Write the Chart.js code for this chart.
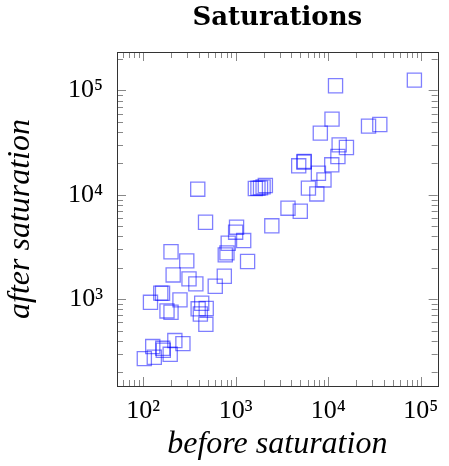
<!DOCTYPE html>
<html>
<head>
<meta charset="utf-8">
<script src="https://cdn.jsdelivr.net/npm/chart.js@4.4.1/dist/chart.umd.min.js"></script>
<style>
  html, body { margin: 0; padding: 0; background: #fff; }
  #wrap { width: 449px; height: 466px; }
</style>
</head>
<body>
<div id="wrap"><canvas id="chart"></canvas></div>
<script>
// (log-log)
const beforeSat = [
  85100, 11970, 10970, 8200, 27200, 36000, 13100, 15700, 12700, 10900,
  5450, 5500, 4790, 7820, 8980, 6100, 7520, 3670, 4980, 2455,
  1629, 1738, 1853, 1976, 2090, 389, 472, 1021, 998, 1219,
  830, 804, 771, 1343, 200, 296, 211, 313, 371, 753,
  601, 162, 155, 120, 250, 181, 200, 429, 393, 480,
  415, 476, 220, 269, 127, 163, 165, 196, 132, 103
];
const afterSat = [
  125600, 110900, 53100, 39000, 45500, 47200, 30100, 28400, 23300, 19400,
  20600, 20900, 18970, 16100, 13900, 11600, 10200, 7450, 6970, 5050,
  11510, 11590, 11670, 11930, 12280, 11330, 5470, 4900, 4390, 3650,
  3440, 2780, 2660, 2300, 2850, 2330, 1710, 1567, 1403, 1660,
  1333, 1141, 1145, 935, 986, 773, 750, 916, 810, 815,
  723, 575, 402, 376, 352, 339, 325, 297, 278, 270
];

const xTickValues = [100, 1000, 10000, 100000];
const xTickLabels = ['10\u00B2', '10\u00B3', '10\u2074', '10\u2075'];
const yTickValues = [1000, 10000, 100000];
const yTickLabels = ['10\u00B3', '10\u2074', '10\u2075'];

const points = beforeSat.map((b, i) => ({x: b, y: afterSat[i]}));

// box frame with inward major/minor ticks on all four sides
const frame = {
  id: 'frame',
  beforeDatasetsDraw(chart) {
    const {ctx, chartArea: a, scales: {x, y}} = chart;
    ctx.save();
    ctx.lineWidth = 1;
    ctx.strokeStyle = '#888';
    ctx.beginPath();
    for (let k = 1; k <= 5; k++) {
      for (let m = 1; m <= 9; m++) {
        const v = m * Math.pow(10, k);
        const len = m === 1 ? 9 : 6;
        if (v >= x.min && v <= x.max) {
          const px = Math.round(x.getPixelForValue(v)) + 0.5;
          ctx.moveTo(px, a.bottom); ctx.lineTo(px, a.bottom - len);
          ctx.moveTo(px, a.top); ctx.lineTo(px, a.top + len);
        }
        if (v >= y.min && v <= y.max) {
          const py = Math.round(y.getPixelForValue(v)) + 0.5;
          ctx.moveTo(a.left, py); ctx.lineTo(a.left + len, py);
          ctx.moveTo(a.right, py); ctx.lineTo(a.right - len, py);
        }
      }
    }
    ctx.stroke();
    ctx.strokeStyle = '#333';
    ctx.strokeRect(Math.round(a.left) + 0.5, Math.round(a.top) + 0.5,
                   Math.round(a.width), Math.round(a.height));
    ctx.restore();
  }
};

new Chart(document.getElementById('chart'), {
  type: 'scatter',
  data: {
    datasets: [{
      label: 'saturations',
      data: points,
      pointStyle: 'rect',
      pointRadius: 10,
      pointHoverRadius: 10,
      backgroundColor: 'rgba(0,0,0,0)',
      borderColor: 'rgba(0,0,255,0.5)',
      borderWidth: 1.3
    }]
  },
  options: {
    responsive: true,
    maintainAspectRatio: false,
    animation: false,
    events: [],
    layout: { padding: { left: 0, right: 1, top: 0, bottom: 0 } },
    plugins: {
      legend: { display: false },
      tooltip: { enabled: false },
      title: {
        display: true,
        fullSize: false,
        text: 'Saturations',
        color: '#000',
        font: { family: 'DejaVu Serif', size: 26, weight: 'bold', lineHeight: 1.0 },
        padding: { top: 5, bottom: 21 }
      }
    },
    scales: {
      x: {
        type: 'logarithmic',
        min: 52.2,
        max: 151800,
        grid: { display: false, drawTicks: false },
        border: { display: false },
        afterBuildTicks: (s) => { s.ticks = xTickValues.map(v => ({value: v})); },
        afterFit: (s) => { s.height = 80; },
        ticks: {
          autoSkip: false,
          maxRotation: 0,
          padding: 10,
          color: '#000',
          font: { family: 'Liberation Serif', size: 26 },
          callback: (v, i) => xTickLabels[i]
        },
        title: {
          display: true,
          text: 'before saturation',
          color: '#000',
          font: { family: 'Liberation Serif', size: 32, style: 'italic', lineHeight: 1.2 },
          padding: { top: 0, bottom: 2 }
        }
      },
      y: {
        type: 'logarithmic',
        min: 147.6,
        max: 233500,
        grid: { display: false, drawTicks: false },
        border: { display: false },
        afterBuildTicks: (s) => { s.ticks = yTickValues.map(v => ({value: v})); },
        afterFit: (s) => { s.width = 117; },
        ticks: {
          autoSkip: false,
          padding: 14,
          color: '#000',
          font: { family: 'Liberation Serif', size: 26 },
          callback: (v, i) => yTickLabels[i]
        },
        title: {
          display: true,
          text: 'after saturation',
          color: '#000',
          font: { family: 'Liberation Serif', size: 32, style: 'italic', lineHeight: 1.2 },
          padding: { top: 1, bottom: 0 }
        }
      }
    }
  },
  plugins: [frame]
});
</script>
</body>
</html>
